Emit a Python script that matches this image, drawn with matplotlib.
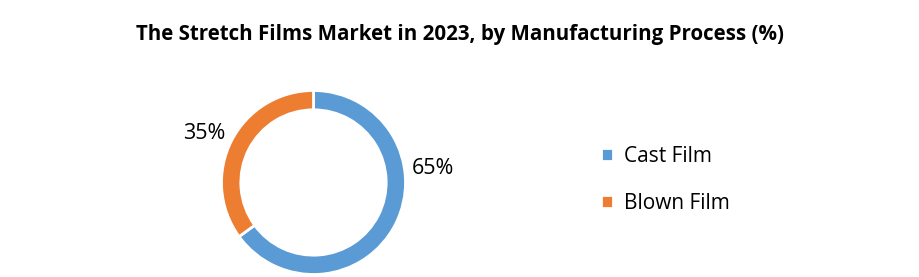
import numpy as np
import matplotlib.pyplot as plt

# Datos del gráfico
categorias = ['Cast Film', 'Blown Film']
valores = [65, 35]
colores = ['#5B9BD5', '#ED7D31']
etiquetas = ['65%', '35%']

plt.rcParams['font.family'] = ['Open Sans', 'DejaVu Sans']

fig = plt.figure(figsize=(9.19, 2.77), dpi=100)

# Titulo
fig.text(0.5, 0.875, 'The Stretch Films Market in 2023, by Manufacturing Process (%)',
         ha='center', va='center', fontsize=14.8, fontweight='bold')

# Ejes del anillo
cx, cy, r = 313.5, 277 - 182.5, 92
ax = fig.add_axes([(cx - r) / 919, (cy - r) / 277, 2 * r / 919, 2 * r / 277])
wedges, _ = ax.pie(valores, colors=colores, startangle=90, counterclock=False,
                   radius=1, wedgeprops=dict(width=0.21, edgecolor='white', linewidth=2))
ax.set_xlim(-1, 1)
ax.set_ylim(-1, 1)
ax.set_aspect('auto')
ax.axis('off')

# Etiquetas de porcentaje
pos_etiquetas = [(1.30, 0.15), (-1.19, 0.53)]
for txt, (x, y) in zip(etiquetas, pos_etiquetas):
    ax.text(x, y, txt, ha='center', va='center', fontsize=15.5, clip_on=False)

# Leyenda
fig.legend(wedges, categorias, loc='center left', bbox_to_anchor=(0.634, 0.35),
           frameon=False, fontsize=15, handlelength=0.55, handleheight=0.55,
           labelspacing=1.25, handletextpad=0.55)

fig.savefig('out.png', dpi=100)
